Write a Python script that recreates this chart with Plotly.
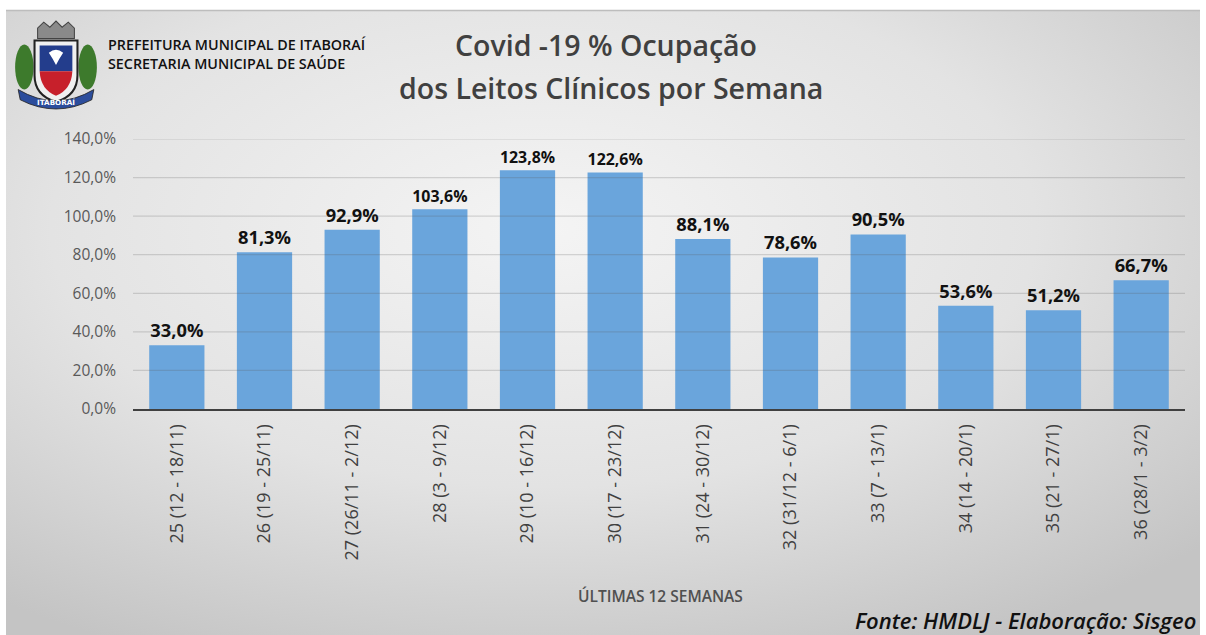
import base64
import plotly.graph_objects as go

categories = ["25 (12 - 18/11)", "26 (19 - 25/11)", "27 (26/11 - 2/12)", "28 (3 - 9/12)",
              "29 (10 - 16/12)", "30 (17 - 23/12)", "31 (24 - 30/12)", "32 (31/12 - 6/1)",
              "33 (7 - 13/1)", "34 (14 - 20/1)", "35 (21 - 27/1)", "36 (28/1 - 3/2)"]
occupancy = [33.0, 81.3, 92.9, 103.6, 123.8, 122.6, 88.1, 78.6, 90.5, 53.6, 51.2, 66.7]
y_ticks = [0, 20, 40, 60, 80, 100, 120, 140]

W, H = 1206, 635
L, R, T, B = 133, 21, 139, 226
PW, PH = W - L - R, H - T - B


def px(x):
    return (x - L) / PW


def py(y):
    return (H - B - y) / PH


bg_svg = f'''<svg xmlns="http://www.w3.org/2000/svg" width="{W}" height="{H}" viewBox="0 0 {W} {H}">
<defs><radialGradient id="g" cx="0.45" cy="0.35" r="0.75">
<stop offset="0" stop-color="#f4f4f4"/><stop offset="0.55" stop-color="#e3e3e3"/><stop offset="1" stop-color="#c4c4c4"/>
</radialGradient></defs>
<rect x="0" y="0" width="{W}" height="{H}" fill="#ffffff"/>
<rect x="6" y="10" width="{W-12}" height="{H-10}" fill="url(#g)"/>
<line x1="6" y1="10.5" x2="{W-6}" y2="10.5" stroke="#bdbdbd" stroke-width="1.5"/>
</svg>'''

logo_svg = '''<svg xmlns="http://www.w3.org/2000/svg" width="90" height="90" viewBox="0 0 90 90">
<ellipse cx="14" cy="48" rx="9" ry="22" fill="#3d7a2c"/>
<ellipse cx="76" cy="48" rx="9" ry="22" fill="#3d7a2c"/>
<path d="M27 10 L33 4 L39 9 L45 3 L51 9 L57 4 L63 10 L63 20 L27 20 Z" fill="#8a8a8a" stroke="#444" stroke-width="1"/>
<path d="M24 22 L66 22 L66 56 Q66 76 45 82 Q24 76 24 56 Z" fill="#f0f0f0" stroke="#222" stroke-width="2"/>
<path d="M29 27 L61 27 L61 52 L29 52 Z" fill="#233d8c"/>
<path d="M29 52 L61 52 Q60 70 45 76 Q30 70 29 52 Z" fill="#c7202b"/>
<path d="M38 34 Q45 28 52 34 Q48 40 45 46 Q42 40 38 34 Z" fill="#ffffff"/>
<path d="M8 70 Q45 92 82 70 L80 80 Q45 98 10 80 Z" fill="#2c4d9c" stroke="#222" stroke-width="0.8"/>
<text x="45" y="85" font-size="7" font-family="DejaVu Sans" fill="#fff" text-anchor="middle" font-weight="bold">ITABORAÍ</text>
</svg>'''


def uri(svg):
    return "data:image/svg+xml;base64," + base64.b64encode(svg.encode("utf-8")).decode()


fig = go.Figure(go.Bar(
    x=categories, y=occupancy,
    marker=dict(color="#6aa5dc", line=dict(width=0)),
    texttemplate="<b>%{y:.1f}%</b>", textposition="outside",
    textfont=dict(family="Open Sans", size=18.3, color="#111111"),
    cliponaxis=False,
))

fig.update_layout(
    width=W, height=H, autosize=False,
    margin=dict(l=L, r=R, t=T, b=B),
    paper_bgcolor="#ffffff", plot_bgcolor="rgba(0,0,0,0)",
    separators=",.",
    bargap=0.37,
    showlegend=False,
    font=dict(family="Open Sans", color="#595959"),
    xaxis=dict(tickangle=-90, tickfont=dict(size=18, color="#404040"),
               showline=True, linecolor="#404040", linewidth=2, ticks="",
               showgrid=False, ticklabelstandoff=6),
    yaxis=dict(range=[y_ticks[0], y_ticks[-1]], tickmode="array", tickvals=y_ticks,
               ticktext=[f"{v:.1f}".replace(".", ",") + "%" for v in y_ticks],
               tickfont=dict(size=15.5, color="#595959"),
               showgrid=False, zeroline=False, showline=False, ticks="",
               ticklabelstandoff=16),
    images=[
        dict(source=uri(bg_svg), xref="paper", yref="paper", x=px(0), y=py(0),
             sizex=W / PW, sizey=H / PH, xanchor="left", yanchor="top",
             sizing="stretch", layer="below"),
        dict(source=uri(logo_svg), xref="paper", yref="paper", x=px(10), y=py(18),
             sizex=92 / PW, sizey=92 / PH, xanchor="left", yanchor="top",
             sizing="stretch", layer="above"),
    ],
)

# gridlines drawn over the bars (as in the reference), at the axis tick values
for v in y_ticks[1:]:
    fig.add_shape(type="line", xref="paper", yref="y", x0=0, x1=1, y0=v, y1=v,
                  line=dict(color="rgba(90,90,90,0.22)", width=1.2), layer="above")

ann = [
    dict(text="PREFEITURA MUNICIPAL DE ITABORAÍ<br>SECRETARIA MUNICIPAL DE SAÚDE",
         x=px(106), y=py(54), xanchor="left", yanchor="middle", align="left",
         font=dict(size=14.3, color="#111111", family="Open Sans", weight=600)),
    dict(text="Covid -19 % Ocupação", x=px(606), y=py(45), xanchor="center", yanchor="middle",
         font=dict(size=28.5, color="#404040", family="Open Sans", weight=600)),
    dict(text="dos Leitos Clínicos por Semana", x=px(611), y=py(88), xanchor="center", yanchor="middle",
         font=dict(size=28.5, color="#404040", family="Open Sans", weight=600)),
    dict(text="ÚLTIMAS 12 SEMANAS", x=px(660), y=py(596), xanchor="center", yanchor="middle",
         font=dict(size=15.5, color="#505050", family="Open Sans", weight=600)),
    dict(text="<i>Fonte: HMDLJ - Elaboração: Sisgeo</i>", x=px(1198), y=py(620),
         xanchor="right", yanchor="middle",
         font=dict(size=22, color="#111111", family="Open Sans", weight=600)),
]
for a in ann:
    a.update(xref="paper", yref="paper", showarrow=False)
fig.update_layout(annotations=ann)

fig.write_html("out.html", config={"displayModeBar": False},
               post_script="document.body.style.margin='0px';document.body.style.overflow='hidden';")
